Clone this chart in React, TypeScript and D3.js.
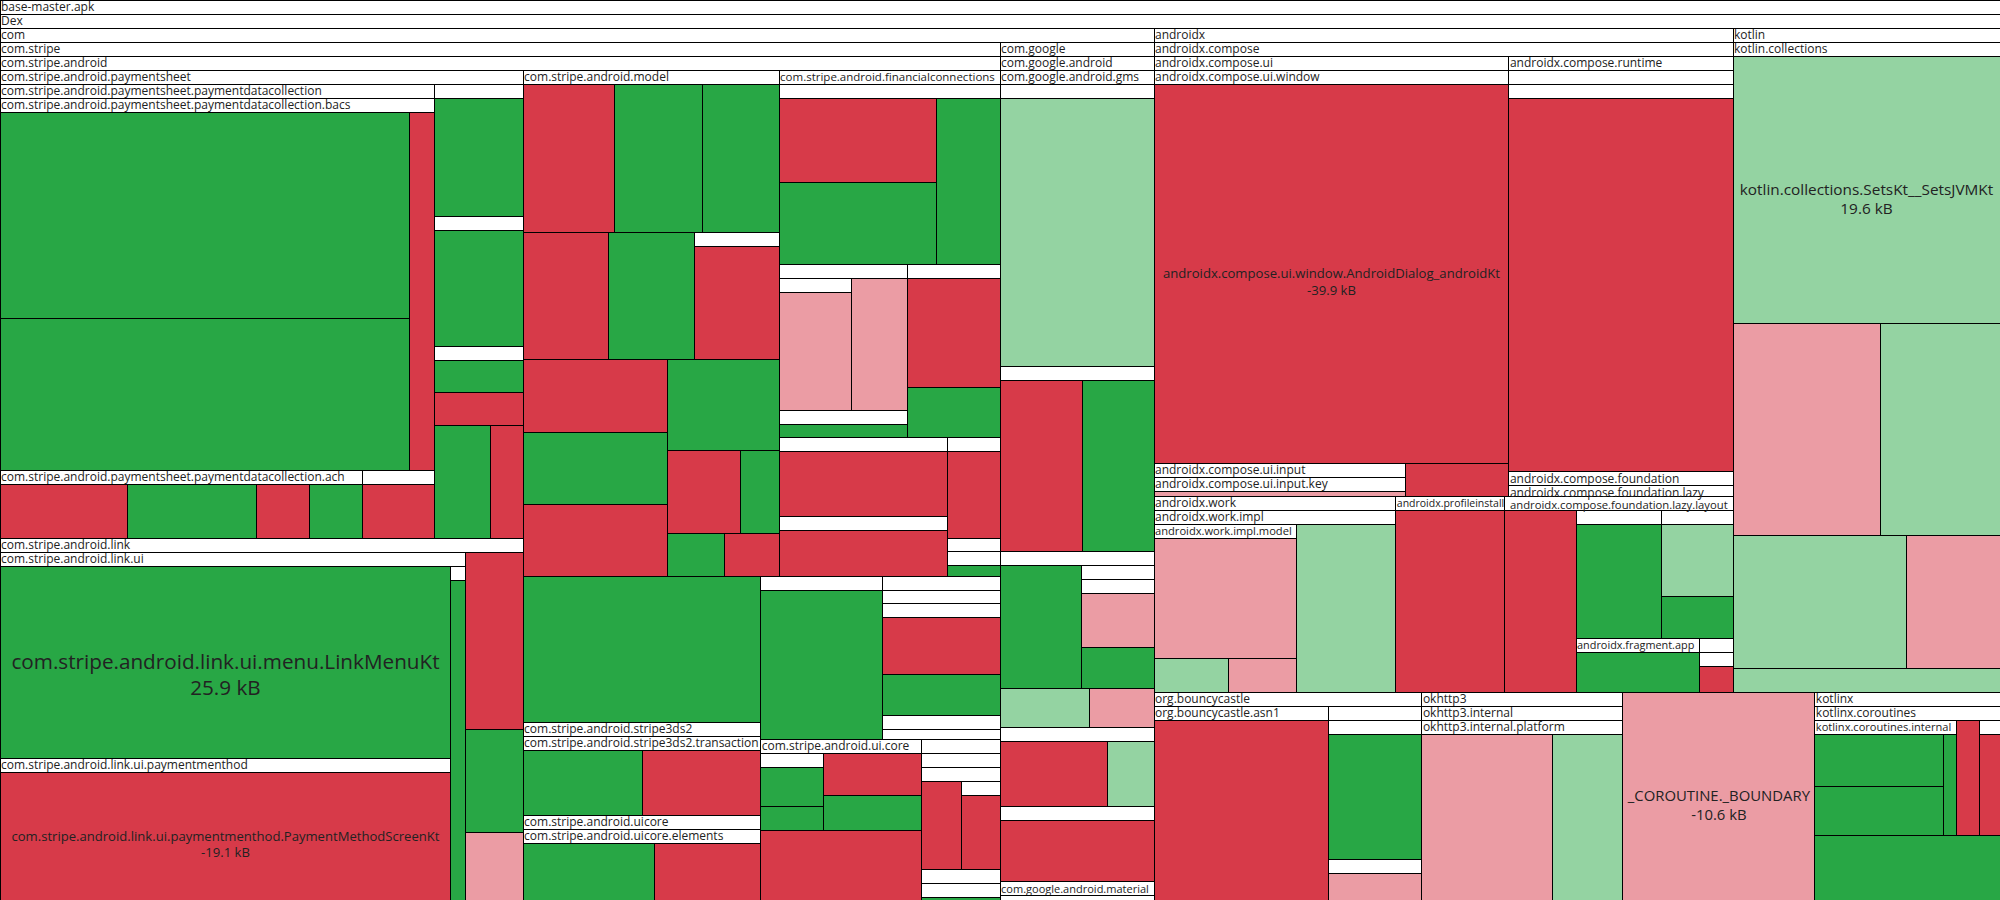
import React, { useMemo } from "react";
import * as d3 from "d3";

// Row: [id, parentId, relative size among siblings, kind, text, joinsPreviousRow]
// kind: p = package (white header), G = grown (new), R = shrunk (removed), g = grown (light), r = shrunk (light)
type Row = [string, string, number, string, string?, number?];

const PS = "com.stripe.android.paymentsheet";
const PDC = "com.stripe.android.paymentsheet.paymentdatacollection";
const BACS = PDC + ".bacs";
const ACH = PDC + ".ach";
const LINK = "com.stripe.android.link";
const LUI = "com.stripe.android.link.ui";
const PMM = "com.stripe.android.link.ui.paymentmenthod";
const MODEL = "com.stripe.android.model";
const FC = "com.stripe.android.financialconnections";
const S3 = "com.stripe.android.stripe3ds2";
const S3T = S3 + ".transaction";
const UC = "com.stripe.android.uicore";
const UCE = UC + ".elements";
const UIC = "com.stripe.android.ui.core";
const CGA = "com.google.android";
const GMS = "com.google.android.gms";
const MAT = "com.google.android.material";
const AX = "androidx";
const AXC = "androidx.compose";
const AXUI = "androidx.compose.ui";
const UIW = "androidx.compose.ui.window";
const INPUT = "androidx.compose.ui.input";
const KEY = INPUT + ".key";
const RT = "androidx.compose.runtime";
const FND = "androidx.compose.foundation";
const LAZY = FND + ".lazy";
const LAYOUT = LAZY + ".layout";
const WORK = "androidx.work";
const IMPL = "androidx.work.impl";
const WM = "androidx.work.impl.model";
const PI = "androidx.profileinstaller";
const FA = "androidx.fragment.app";
const KC = "kotlin.collections";
const BC = "org.bouncycastle";
const ASN1 = "org.bouncycastle.asn1";
const OK = "okhttp3";
const OKI = "okhttp3.internal";
const OKP = "okhttp3.internal.platform";
const KX = "kotlinx";
const KXC = "kotlinx.coroutines";
const KXI = "kotlinx.coroutines.internal";

const topRows: Row[] = [
  ["base-master.apk", "", 1, "p", "base-master.apk"],
  ["Dex", "base-master.apk", 1, "p", "Dex"],
  ["com", "Dex", 10063, "p", "com"],
  [AX, "Dex", 3845, "p", "androidx"],
  ["kotlin", "Dex", 1773, "p", "kotlin", 1],
  [BC, "Dex", 557, "p", BC],
  [OK, "Dex", 418, "p", OK],
  ["_COROUTINE._BOUNDARY", "Dex", 399, "r", "-10.6 kB"],
  [KX, "Dex", 385, "p", KX],
];

const stripeRows: Row[] = [
  ["com.stripe", "com", 8580, "p", "com.stripe"],
  ["com.google", "com", 1321, "p", "com.google"],
  ["com.stripe.android", "com.stripe", 1, "p", "com.stripe.android"],
  [PS, "com.stripe.android", 2448, "p", PS],
  [LINK, "com.stripe.android", 1893, "p", LINK, 1],
  [MODEL, "com.stripe.android", 1295, "p", MODEL],
  [FC, "com.stripe.android", 1118, "p", FC, 1],
  ["sa/1", "com.stripe.android", 347, "G"],
  [S3, "com.stripe.android", 221, "p", S3, 1],
  [UC, "com.stripe.android", 202, "p", UC, 1],
  ["sa/d", "com.stripe.android", 199, "p", ""],
  ["sa/e", "com.stripe.android", 191, "p", "", 1],
  [UIC, "com.stripe.android", 146, "p", UIC],
  ["sa/2", "com.stripe.android", 112, "R", "", 1],
  ["sa/f", "com.stripe.android", 127, "p", ""],
];

const paymentsheetRows: Row[] = [
  [PDC, PS, 1975, "p", PDC],
  ["ps/a", PS, 117, "p", ""],
  ["ps/b", PS, 114, "p", ""],
  ["ps/c", PS, 41, "p", ""],
  ["ps/1", PS, 29, "R"],
  ["ps/2", PS, 62, "G"],
  ["ps/3", PS, 37, "R", "", 1],
  ["ps/a1", "ps/a", 1, "G"],
  ["ps/b1", "ps/b", 1, "G"],
  ["ps/c1", "ps/c", 1, "G"],
  [BACS, PDC, 1618, "p", BACS],
  [ACH, PDC, 247, "p", ACH],
  ["pdc/h", PDC, 49, "p", ""],
  ["pdc/h1", "pdc/h", 1, "R"],
  ["bacs/1", BACS, 843, "G"],
  ["bacs/2", BACS, 622, "G", "", 1],
  ["bacs/3", BACS, 93, "R"],
  ["ach/1", ACH, 69, "R"],
  ["ach/2", ACH, 70, "G"],
  ["ach/3", ACH, 29, "R"],
  ["ach/4", ACH, 29, "G"],
];

const linkRows: Row[] = [
  [LUI, LINK, 1618, "p", LUI],
  ["link/1", LINK, 103, "R"],
  ["link/2", LINK, 60, "G"],
  ["link/3", LINK, 39, "r"],
  ["com.stripe.android.link.ui.menu.LinkMenuKt", LUI, 866, "G", "25.9 kB"],
  [PMM, LUI, 640, "p", PMM, 1],
  ["lui/a", LUI, 47, "p", ""],
  ["lui/a1", "lui/a", 1, "G"],
  ["com.stripe.android.link.ui.paymentmenthod.PaymentMethodScreenKt", PMM, 1, "R", "-19.1 kB"],
];

const modelRows: Row[] = [
  ["m/1", MODEL, 135, "R"],
  ["m/2", MODEL, 130, "G", "", 1],
  ["m/3", MODEL, 114, "G", "", 1],
  ["m/4", MODEL, 109, "R"],
  ["m/5", MODEL, 109, "G", "", 1],
  ["m/p", MODEL, 107, "p", "", 1],
  ["m/6", MODEL, 106, "R"],
  ["m/7", MODEL, 104, "G", "", 1],
  ["m/8", MODEL, 104, "R", "", 1],
  ["m/9", MODEL, 102, "G"],
  ["m/10", MODEL, 60, "R"],
  ["m/11", MODEL, 32, "G", "", 1],
  ["m/12", MODEL, 24, "G"],
  ["m/13", MODEL, 23, "R"],
  ["m/p1", "m/p", 1, "R"],
];

const fcRows: Row[] = [
  ["fc/1", FC, 398, "p", ""],
  ["fc/2", FC, 224, "p", ""],
  ["fc/3", FC, 160, "p", "", 1],
  ["fc/4", FC, 232, "p", ""],
  ["fc/5", FC, 73, "p", ""],
  ["fc/1a", "fc/1", 134, "R"],
  ["fc/1b", "fc/1", 128, "G", "", 1],
  ["fc/1c", "fc/1", 105, "G"],
  ["fc/2a", "fc/2", 96, "p", ""],
  ["fc/2b", "fc/2", 74, "r", "", 1],
  ["fc/2c", "fc/2", 36, "p", ""],
  ["fc/2a1", "fc/2a", 1, "r"],
  ["fc/2c1", "fc/2c", 1, "G"],
  ["fc/3a", "fc/3", 101, "R"],
  ["fc/3b", "fc/3", 46, "G"],
  ["fc/4a", "fc/4", 108, "R"],
  ["fc/4b", "fc/4", 101, "p", "", 1],
  ["fc/4b1", "fc/4b", 1, "R"],
  ["fc/5a", "fc/5", 46, "R"],
  ["fc/5b", "fc/5", 7, "p", ""],
  ["fc/5c", "fc/5", 13, "p", "", 1],
  ["fc/5b1", "fc/5b", 1, "G"],
  ["fc/5c1", "fc/5c", 1, "G"],
];

const stripeMiscRows: Row[] = [
  [S3T, S3, 1, "p", S3T],
  ["s3/1", S3T, 78, "G"],
  ["s3/2", S3T, 77, "R"],
  [UCE, UC, 1, "p", UCE],
  ["uc/1", UCE, 75, "G"],
  ["uc/2", UCE, 61, "R"],
  ["sa/d1", "sa/d", 1, "G"],
  ["sa/e1", "sa/e", 16, "p", ""],
  ["sa/e2", "sa/e", 131, "p", ""],
  ["sa/e3", "sa/e", 27, "p", ""],
  ["sa/e1a", "sa/e1", 1, "G"],
  ["sa/e2a", "sa/e2", 67, "R"],
  ["sa/e2b", "sa/e2", 48, "G", "", 1],
  ["sa/e3a", "sa/e3", 1, "p", ""],
  ["sa/e3b", "sa/e3a", 1, "G"],
  ["uic/1", UIC, 33, "p", ""],
  ["uic/2", UIC, 15, "G", "", 1],
  ["uic/3", UIC, 41, "R"],
  ["uic/4", UIC, 34, "G", "", 1],
  ["uic/1a", "uic/1", 1, "G"],
  ["sa/f1", "sa/f", 1, "p", ""],
  ["sa/f2", "sa/f1", 1, "p", ""],
  ["sa/f2a", "sa/f2", 35, "R"],
  ["sa/f2b", "sa/f2", 34, "p", "", 1],
  ["sa/f3", "sa/f2", 24, "p", ""],
  ["sa/f2b1", "sa/f2b", 1, "R"],
  ["sa/f4", "sa/f3", 1, "p", ""],
  ["sa/f4a", "sa/f4", 1, "G"],
];

const googleRows: Row[] = [
  [CGA, "com.google", 1, "p", CGA],
  [GMS, CGA, 457, "p", GMS],
  ["cga/2", CGA, 285, "p", ""],
  ["cga/3", CGA, 211, "p", ""],
  ["cga/g", CGA, 35, "g"],
  ["cga/r", CGA, 25, "r", "", 1],
  ["cga/4", CGA, 122, "p", ""],
  ["cga/5", CGA, 116, "p", ""],
  [MAT, CGA, 28, "p", MAT, 1],
  ["gms/1", GMS, 1, "p", ""],
  ["gms/1a", "gms/1", 1, "g"],
  ["cga/2a", "cga/2", 140, "R"],
  ["cga/2b", "cga/2", 123, "G", "", 1],
  ["cga/3a", "cga/3", 101, "G"],
  ["cga/3b", "cga/3", 89, "p", ""],
  ["cga/3c", "cga/3b", 1, "p", ""],
  ["cga/3c1", "cga/3c", 39, "r"],
  ["cga/3c2", "cga/3c", 29, "G"],
  ["cga/4a", "cga/4", 70, "R"],
  ["cga/4b", "cga/4", 30, "g"],
  ["cga/5a", "cga/5", 1, "R"],
  ["mat/1", MAT, 1, "p", ""],
  ["mat/1a", "mat/1", 1, "G"],
];

const androidxRows: Row[] = [
  [AXC, AX, 2629, "p", AXC],
  [WORK, AX, 474, "p", WORK],
  [PI, AX, 214, "p", PI],
  ["ax/x", AX, 447, "p", ""],
  [AXUI, AXC, 1562, "p", AXUI],
  [RT, AXC, 932, "p", RT],
  [FND, AXC, 54, "p", FND],
  [UIW, AXUI, 1395, "p", UIW],
  [INPUT, AXUI, 83, "p", INPUT],
  ["axui/1", AXUI, 34, "R"],
  ["androidx.compose.ui.window.AndroidDialog_androidKt", UIW, 1, "R", "-39.9 kB"],
  [KEY, INPUT, 1, "p", KEY],
  ["key/1", KEY, 1, "r"],
  ["rt/1", RT, 1, "p", ""],
  ["rt/2", "rt/1", 1, "p", ""],
  ["rt/3", "rt/2", 1, "R"],
  [LAZY, FND, 1, "p", LAZY],
  [LAYOUT, LAZY, 1, "p", LAYOUT],
  ["lazy/1", LAYOUT, 1, "G"],
  [IMPL, WORK, 1, "p", IMPL],
  [WM, IMPL, 240, "p", WM],
  ["impl/1", IMPL, 166, "g"],
  ["wm/1", WM, 172, "r"],
  ["wm/2", WM, 25, "g"],
  ["wm/3", WM, 23, "r"],
  ["pi/1", PI, 1, "R"],
  ["x/1", "ax/x", 129, "R"],
  ["x/y1", "ax/x", 109, "p", ""],
  ["x/y2", "ax/x", 92, "p", "", 1],
  [FA, "ax/x", 66, "p", FA],
  ["x/z", "ax/x", 18, "p", ""],
  ["y1/1", "x/y1", 1, "G"],
  ["y2/1", "x/y2", 52, "g"],
  ["y2/2", "x/y2", 30, "G"],
  ["fa/1", FA, 1, "G"],
  ["z/1", "x/z", 1, "p", ""],
  ["z/2", "z/1", 1, "R"],
];

const otherRows: Row[] = [
  [KC, "kotlin", 1671, "p", KC],
  ["kt/1", "kotlin", 64, "g"],
  ["kotlin.collections.SetsKt__SetsJVMKt", KC, 713, "g", "19.6 kB"],
  ["kc/1", KC, 312, "r"],
  ["kc/2", KC, 254, "g", "", 1],
  ["kc/3", KC, 231, "g"],
  ["kc/4", KC, 124, "r"],
  [ASN1, BC, 338, "p", ASN1],
  ["bc/1", BC, 182, "p", ""],
  ["asn1/1", ASN1, 1, "R"],
  ["bc/2", "bc/1", 132, "p", ""],
  ["bc/3", "bc/1", 38, "p", ""],
  ["bc/2a", "bc/2", 1, "G"],
  ["bc/3a", "bc/3", 1, "r"],
  [OKI, OK, 1, "p", OKI],
  [OKP, OKI, 1, "p", OKP],
  ["okp/1", OKP, 216, "r"],
  ["okp/2", OKP, 116, "g"],
  [KXC, KX, 239, "p", KXC],
  ["kx/1", KX, 120, "G"],
  [KXI, KXC, 163, "p", KXI],
  ["kxc/1", KXC, 26, "R"],
  ["kxc/p", KXC, 24, "p", "", 1],
  ["kxc/p1", "kxc/p", 1, "R"],
  ["kxi/1", KXI, 67, "G"],
  ["kxi/2", KXI, 63, "G", "", 1],
  ["kxi/3", KXI, 13, "G"],
];

const allRows: Row[] = [
  ...topRows,
  ...stripeRows,
  ...paymentsheetRows,
  ...linkRows,
  ...modelRows,
  ...fcRows,
  ...stripeMiscRows,
  ...googleRows,
  ...androidxRows,
  ...otherRows,
];

const FILL: Record<string, string> = {
  p: "#ffffff",
  G: "#28a745",
  R: "#d73a49",
  g: "#94d3a2",
  r: "#eb9ca4",
};

const W = 2000;
const H = 900;
const HEADER = 14;
const FONT = '"Open Sans", "Noto Sans", sans-serif';

let ctx: CanvasRenderingContext2D | null = null;
function textWidth(s: string, size: number): number {
  if (!ctx) ctx = document.createElement("canvas").getContext("2d");
  if (!ctx) return s.length * size * 0.55;
  ctx.font = `${size}px "Open Sans"`;
  return ctx.measureText(s).width;
}

// rows of the squarified layout: each child either starts a new row or joins the previous one
function rowTile(parent: any, x0: number, y0: number, x1: number, y1: number) {
  const kids = parent.children;
  let value = parent.value;
  let i = 0;
  while (i < kids.length) {
    let j = i + 1;
    while (j < kids.length && kids[j].data[5]) j++;
    const members = kids.slice(i, j);
    const row: any = { children: members, value: d3.sum(members, (k: any) => k.value) };
    const dx = x1 - x0;
    const dy = y1 - y0;
    if (dx < dy) {
      const ny = value ? y0 + (dy * row.value) / value : y1;
      d3.treemapDice(row, x0, y0, x1, ny);
      y0 = ny;
    } else {
      const nx = value ? x0 + (dx * row.value) / value : x1;
      d3.treemapSlice(row, x0, y0, nx, y1);
      x0 = nx;
    }
    value -= row.value;
    i = j;
  }
}

function useLayout() {
  return useMemo(() => {
    const root: any = d3
      .stratify<Row>()
      .id((d) => d[0])
      .parentId((d) => (d[1] ? d[1] : null))(allRows);
    root.eachBefore((n: any) => {
      if (!n.parent) {
        n.value = 1;
        return;
      }
      const tot = d3.sum(n.parent.children, (c: any) => c.data[2]);
      n.value = (n.parent.value * n.data[2]) / tot;
    });
    d3.treemap<Row>().size([W, H]).paddingTop(HEADER).tile(rowTile as any)(root);
    return root.descendants();
  }, []);
}

export default function App() {
  const nodes = useLayout();
  return (
    <svg
      width={W}
      height={H}
      style={{ position: "absolute", left: 0, top: 0, background: "#fff" }}
      fontFamily={FONT}
    >
      {nodes.map((n: any) => {
        const [id, , , kind, text] = n.data as Row;
        const w = n.x1 - n.x0;
        const h = n.y1 - n.y0;
        const els: any[] = [];
        if (w > 0 && h > 0) {
          els.push(
            <rect
              key="r"
              x={n.x0}
              y={n.y0}
              width={w}
              height={h}
              fill={FILL[kind]}
              stroke="#000"
              strokeWidth={1}
              shapeRendering="crispEdges"
            />
          );
        }
        if (kind === "p" && text) {
          const tw = textWidth(text, 12);
          let fs = 12;
          if (tw > w - 2) fs = Math.max(10.5, (12 * (w - 6)) / tw);
          els.push(
            <text key="t" x={n.x0 + 1} y={n.y0 + 10.8} fontSize={fs} fill="#222">
              {text}
            </text>
          );
        }
        if (kind !== "p" && text) {
          const fs = Math.min((0.95 * w) / textWidth(id, 1), h / 3);
          const cx = (n.x0 + n.x1) / 2;
          const cy = (n.y0 + n.y1) / 2;
          els.push(
            <text key="l" x={cx} textAnchor="middle" fontSize={fs} fill="#222">
              <tspan x={cx} y={cy + fs * 0.35}>
                {id}
              </tspan>
              <tspan x={cx} y={cy + fs * 0.35 + fs * 1.25}>
                {text}
              </tspan>
            </text>
          );
        }
        return <g key={id}>{els}</g>;
      })}
    </svg>
  );
}
